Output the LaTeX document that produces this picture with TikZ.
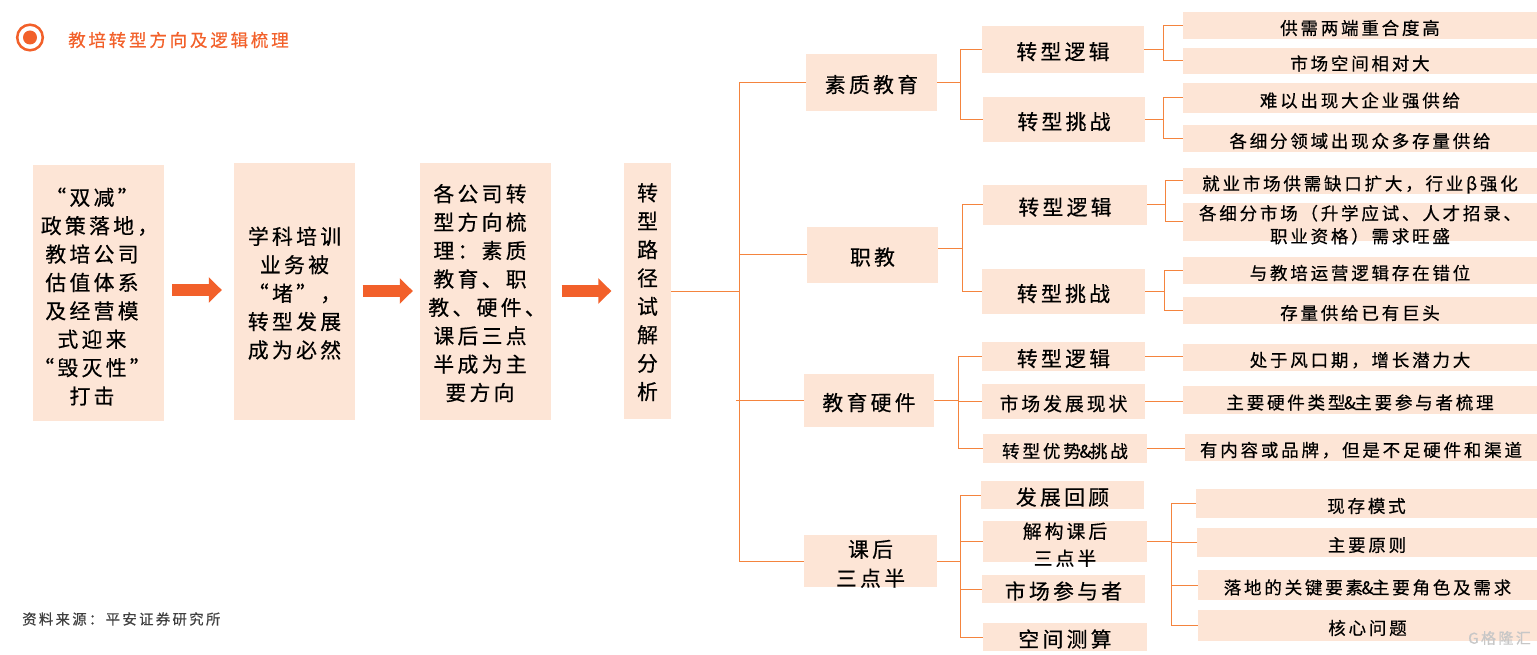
\documentclass[tikz,border=0pt]{standalone}
\usepackage{fontspec}
\setmainfont{Noto Sans CJK SC}[LetterSpace=16,Kerning=Off,FakeBold=0.5]
\usetikzlibrary{arrows.meta}
\definecolor{peach}{HTML}{FDE5D6}
\definecolor{rust}{HTML}{F2602A}
\definecolor{wire}{HTML}{F4843E}
\tikzstyle{tall} = [rectangle, inner sep=0pt, align=center, fill=peach, font=\fontsize{20.8}{28.4}\selectfont]
\tikzstyle{mid} = [rectangle, inner sep=0pt, align=center, fill=peach, text height=20pt, text depth=0pt, font=\fontsize{20.8}{29}\selectfont]
\tikzstyle{tight} = [rectangle, inner sep=0pt, align=center, fill=peach, text height=18.6pt, text depth=0pt, font=\fontsize{18.8}{27}\selectfont]
\tikzstyle{leaf} = [rectangle, inner sep=0pt, align=center, fill=peach, text height=18.3pt, text depth=0pt, font=\fontsize{17.5}{23}\selectfont, minimum width=354pt]
\tikzstyle{link} = [wire, line width=1pt]
\tikzstyle{fatarrow} = [rust, line width=12pt, -{Triangle[length=13pt,width=25pt]}]
\newcommand{\squeeze}[1]{\smash{\begin{tabular}[c]{@{}c@{}}#1\end{tabular}}}
\newcommand{\pile}[3]{\raisebox{-#2}[\height][\depth]{\begin{tabular}{@{}c@{\hspace{#1}}}#3\end{tabular}}}
\newcommand{\amp}{\hspace{-1.5pt}\&\hspace{-1.5pt}}

\begin{document}
\begin{tikzpicture}[x=1pt,y=-1pt]
\useasboundingbox (0,0) rectangle (1537,655);

\node (35)[circle, inner sep=0pt, minimum size=14pt, fill=rust] at (30,37.5){};
\draw[rust, line width=2.5pt] (35) circle (12.8pt);
\node (36)[anchor=west, inner sep=0pt, text=rust, font=\fontsize{17.5}{22}\selectfont] at (68,40){教培转型方向及逻辑梳理};
\node (37)[anchor=west, inner sep=0pt, text=black!75, font=\fontsize{14.4}{16}\selectfont] at (22,619){资料来源^^^^ff1a平安证券研究所};

\node (1)[tall, minimum width=131pt, minimum height=256pt] at (98.5,293){\pile{13pt}{5.9pt}{“双减”\\政策落地^^^^ff0c\kern-15pt\\教培公司\\估值体系\\及经营模\\式迎来\\“毁灭性”\\打击}};
\node (2)[tall, minimum width=121pt, minimum height=257pt] at (294.5,291.5){\pile{0pt}{3.9pt}{学科培训\\业务被\\“堵”^^^^ff0c\\转型发展\\成为必然}};
\node (3)[tall, minimum width=131pt, minimum height=257pt] at (485.5,291.5){\pile{11pt}{3.9pt}{各公司转\\型方向梳\\理^^^^ff1a素质\\教育、职\\教、硬件、\kern-14pt\\课后三点\\半成为主\\要方向}};
\node (4)[tall, minimum width=47pt, minimum height=256pt] at (647.5,291){\pile{0pt}{3.4pt}{转\\型\\路\\径\\试\\解\\分\\析}};

\node (5)[mid, minimum width=131pt, minimum height=57pt] at (871.5,82.5){素质教育};
\node (6)[mid, minimum width=131pt, minimum height=56pt] at (872.5,255){职教};
\node (7)[mid, minimum width=130pt, minimum height=53pt] at (869,400.5){教育硬件};
\node (8)[mid, minimum width=133pt, minimum height=52pt] at (870.5,561){\squeeze{课后\\三点半}};

\node (9)[mid, minimum width=162pt, minimum height=47pt] at (1063,49.5){转型逻辑};
\node (10)[mid, minimum width=162pt, minimum height=45pt] at (1064,119.5){转型挑战};
\node (11)[mid, minimum width=164pt, minimum height=40pt] at (1065,205){转型逻辑};
\node (12)[mid, minimum width=163pt, minimum height=45pt] at (1063.5,291.5){转型挑战};
\node (13)[mid, minimum width=163pt, minimum height=29pt] at (1063.5,356.5){转型逻辑};
\node (14)[tight, minimum width=163pt, minimum height=35pt] at (1063.5,401.5){市场发展现状};
\node (15)[tight, minimum width=164pt, minimum height=29pt, font=\fontsize{17.6}{20}\selectfont] at (1065,448.5){转型优势\amp 挑战};
\node (16)[mid, minimum width=163pt, minimum height=28pt] at (1062.5,495){发展回顾};
\node (17)[tight, minimum width=164pt, minimum height=41pt] at (1065,541.5){\squeeze{解构课后\\三点半}};
\node (18)[mid, minimum width=163pt, minimum height=28pt] at (1063.5,589){市场参与者};
\node (19)[mid, minimum width=164pt, minimum height=28pt] at (1065,637){空间测算};

\node (20)[leaf, minimum height=27pt] at (1360,25.5){供需两端重合度高};
\node (21)[leaf, minimum height=26pt] at (1360,61){市场空间相对大};
\node (22)[leaf, minimum height=30pt] at (1360,98){难以出现大企业强供给};
\node (23)[leaf, minimum height=27pt] at (1360,138.5){各细分领域出现众多存量供给};
\node (24)[leaf, minimum height=26pt] at (1360,181){就业市场供需缺口扩大^^^^ff0c行业β强化};
\node (25)[leaf, minimum height=38pt] at (1360,222){\squeeze{各细分市场^^^^ff08升学应试、人才招录、\\职业资格^^^^ff09需求旺盛}};
\node (26)[leaf, minimum height=27pt] at (1360,270.5){与教培运营逻辑存在错位};
\node (27)[leaf, minimum height=27pt] at (1360,310.5){存量供给已有巨头};
\node (28)[leaf, minimum height=27pt] at (1360,357.5){处于风口期^^^^ff0c增长潜力大};
\node (29)[leaf, minimum height=28pt] at (1360,400){主要硬件类型\amp 主要参与者梳理};
\node (30)[leaf, minimum width=352pt, minimum height=27pt] at (1361,447.5){有内容或品牌^^^^ff0c但是不足硬件和渠道};
\node (31)[leaf, minimum width=341pt, minimum height=29pt] at (1366.5,503.5){现存模式};
\node (32)[leaf, minimum width=340pt, minimum height=29pt] at (1367,542.5){主要原则};
\node (33)[leaf, minimum width=339pt, minimum height=30pt] at (1367.5,585){落地的关键要素\amp 主要角色及需求};
\node (34)[leaf, minimum width=339pt, minimum height=31pt] at (1367.5,625.5){核心问题};

\node (38)[anchor=east, inner sep=0pt, text=black!22, font=\fontsize{15}{16}\selectfont] at (1531,638){G格隆汇};

\draw [fatarrow, shorten <=8pt, shorten >=12pt](1.east |- 0,290) -- (2.west |- 0,290);
\draw [fatarrow, shorten <=7.5pt, shorten >=7pt](2.east |- 0,291) -- (3.west |- 0,291);
\draw [fatarrow, shorten <=10.5pt, shorten >=12.5pt](3.east |- 0,291) -- (4.west |- 0,291);

\coordinate (trunk) at (739,291);
\draw [link](4.east) -- (trunk);
\draw [link](trunk) |- (5.west);
\draw [link](trunk) |- (6.west);
\draw [link](trunk) |- (8.west);
\draw [link](7.west) -- ++(-68,0);

\draw [link](5.east) -- ++(23,0) |- (9.west);
\draw [link](5.east) -- ++(23,0) |- (10.west);
\draw [link]([yshift=6pt]6.east) -- ++(24,0) |- (11.west);
\draw [link]([yshift=6pt]6.east) -- ++(24,0) |- (12.west);
\draw [link](7.east) -- ++(24.5,0) |- (13.west);
\draw [link](7.east) -- ++(24.5,0) |- (14.west);
\draw [link](7.east) -- ++(24.5,0) |- (15.west);
\draw [link](8.east) -- ++(23,0) |- (16.west);
\draw [link](8.east) -- ++(23,0) |- (17.west);
\draw [link](8.east) -- ++(23,0) |- (18.west);
\draw [link](8.east) -- ++(23,0) |- (19.west);

\draw [link](9.east) -- ++(19,0) |- (20.west);
\draw [link](9.east) -- ++(19,0) |- (21.west);
\draw [link](10.east) -- ++(18,0) |- (22.west);
\draw [link](10.east) -- ++(18,0) |- (23.west);
\draw [link](11.east) -- ++(18,0) |- (24.west);
\draw [link](11.east) -- ++(18,0) |- (25.west);
\draw [link](12.east) -- ++(19,0) |- (26.west);
\draw [link](12.east) -- ++(19,0) |- (27.west);
\draw [link](13.east) -- (13.east -| 28.west);
\draw [link](14.east) -- (14.east -| 29.west);
\draw [link](15.east) -- (15.east -| 30.west);
\draw [link](17.east) -- ++(24.5,0) |- (31.west);
\draw [link](17.east) -- ++(24.5,0) |- (32.west);
\draw [link](17.east) -- ++(24.5,0) |- (33.west);
\draw [link](17.east) -- ++(24.5,0) |- (34.west);
\end{tikzpicture}
\end{document}
